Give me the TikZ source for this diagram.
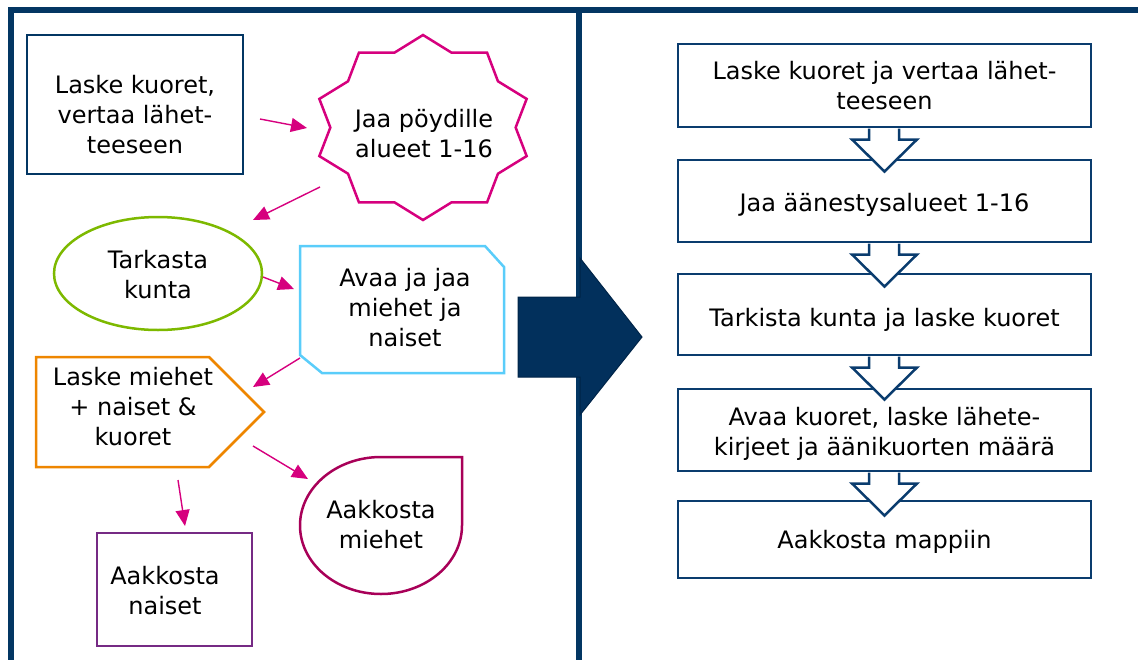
\documentclass[tikz,border=0pt]{standalone}
\usepackage{fontspec}
\setmainfont{DejaVu Sans}
\usetikzlibrary{shapes.geometric,arrows.meta,calc}
\definecolor{frameblue}{RGB}{3,54,99}
\definecolor{chevfill}{RGB}{2,48,92}
\definecolor{chevline}{RGB}{0,36,72}
\definecolor{magen}{RGB}{214,0,126}
\definecolor{greenl}{RGB}{125,185,0}
\definecolor{lblue}{RGB}{90,205,250}
\definecolor{orangel}{RGB}{238,134,0}
\definecolor{purplel}{RGB}{118,42,132}
\definecolor{maroonl}{RGB}{168,0,88}
\definecolor{boxblue}{RGB}{10,60,110}
\begin{document}
\begin{tikzpicture}[x=1pt,y=-1pt,
  txt/.style={font=\fontsize{24}{30}\selectfont, align=center, inner sep=0pt, text=black},
  flowbox/.style={draw=boxblue, line width=2.8pt, fill=white, minimum width=413pt, inner sep=0pt},
  downarrow/.style={draw=boxblue, line width=2.5pt, fill=white, line join=miter},
  conn/.style={draw=magen, line width=1.4pt, -{Triangle[length=16pt,width=14pt]}},
  shapeline/.style={line width=2.5pt, fill=white, line join=miter}
]
\useasboundingbox (0,0) rectangle (1138,659);
\begin{scope}
\clip (0,0) rectangle (1138,659);
% frame
\draw[frameblue, line width=6pt] (10.5,680) -- (10.5,10) -- (1160,10);
\draw[frameblue, line width=6pt] (579,10) -- (579,680);
\end{scope}

% chevron arrow
\draw[fill=chevfill, draw=chevline, line width=1pt, line join=miter]
  (518,297) -- (580,297) -- (580,258) -- (642,337) -- (580,415) -- (580,377) -- (518,377) -- cycle;

% ---------- left panel ----------
% box 1
\node[draw=frameblue, line width=2.8pt, minimum width=216pt, minimum height=139pt, inner sep=0pt] (b1) at (135,104.5) {};
\node[txt] (b1t) at (135,114.5) {Laske kuoret,\\vertaa lähet-\\teeseen};

% star
\draw[magen, shapeline] plot[samples at={0,...,19}, variable=\i]
  ({423+109*(1-0.15*mod(\i,2))*cos(90+18*\i)}, {127.5-92.5*(1-0.15*mod(\i,2))*sin(90+18*\i)}) -- cycle;
\node[txt] (star) at (424,134) {Jaa pöydille\\alueet 1-16};

% ellipse
\node[ellipse, draw=greenl, line width=2.5pt, minimum width=208pt, minimum height=113pt, inner sep=0pt] (ell) at (158,273.5) {};
\node[txt] (ellt) at (158,275) {Tarkasta\\kunta};

% snip box
\draw[lblue, shapeline] (300,246) -- (485,246) -- (504,267) -- (504,373) -- (322,373) -- (300,355) -- cycle;
\node[txt] (snip) at (405,308) {Avaa ja jaa\\miehet ja\\naiset};

% pentagon
\draw[orangel, shapeline] (36,357) -- (209,357) -- (264,412) -- (209,467) -- (36,467) -- cycle;
\node[txt] (pent) at (133,406.5) {Laske miehet\\+ naiset \&\\kuoret};

% purple box
\node[draw=purplel, line width=2.5pt, minimum width=155pt, minimum height=113pt, inner sep=0pt] (pbox) at (174.5,589.5) {};
\node[txt] (pboxt) at (165,591) {Aakkosta\\naiset};

% teardrop
\draw[maroonl, shapeline] (462,457) -- (381,457) arc[start angle=270, end angle=0, x radius=81, y radius=68.5] -- cycle;
\node[txt] (tear) at (381,525) {Aakkosta\\miehet};

% connectors
\coordinate (a1s) at (260,119); \coordinate (a1e) at (307,128);
\coordinate (a2s) at (320,187); \coordinate (a2e) at (253,220);
\coordinate (a3s) at (263,277); \coordinate (a3e) at (294,289);
\coordinate (a4s) at (300,358); \coordinate (a4e) at (253,387);
\coordinate (a5s) at (253,446); \coordinate (a5e) at (308,479);
\coordinate (a6s) at (178,480); \coordinate (a6e) at (185,526);
\draw[conn] (a1s) -- (a1e);
\draw[conn] (a2s) -- (a2e);
\draw[conn] (a3s) -- (a3e);
\draw[conn] (a4s) -- (a4e);
\draw[conn] (a5s) -- (a5e);
\draw[conn] (a6s) -- (a6e);

% ---------- right panel ----------
\node[flowbox, minimum height=83pt] (r1) at (884.5,85.5) {};
\node[flowbox, minimum height=82pt] (r2) at (884.5,201) {};
\node[flowbox, minimum height=81pt] (r3) at (884.5,314.5) {};
\node[flowbox, minimum height=82pt] (r4) at (884.5,430) {};
\node[flowbox, minimum height=77pt] (r5) at (884.5,539.5) {};
\node[txt] (r1t) at (884.5,86) {Laske kuoret ja vertaa lähet-\\teeseen};
\node[txt] (r2t) at (884.5,204.5) {Jaa äänestysalueet 1-16};
\node[txt] (r3t) at (884.5,319.5) {Tarkista kunta ja laske kuoret};
\node[txt] (r4t) at (884.5,434) {Avaa kuoret, laske lähete-\\kirjeet ja äänikuorten määrä};
\node[txt] (r5t) at (884.5,541.5) {Aakkosta mappiin};

\foreach \top in {128.5,243.5,356.5,472.5}{
  \fill[white] (870,\top) rectangle (898,\top+11);
  \draw[downarrow] (869,\top) -- (869,\top+11) -- (852,\top+11) -- (884.5,\top+43) -- (917,\top+11) -- (899,\top+11) -- (899,\top);
}
\end{tikzpicture}
\end{document}
